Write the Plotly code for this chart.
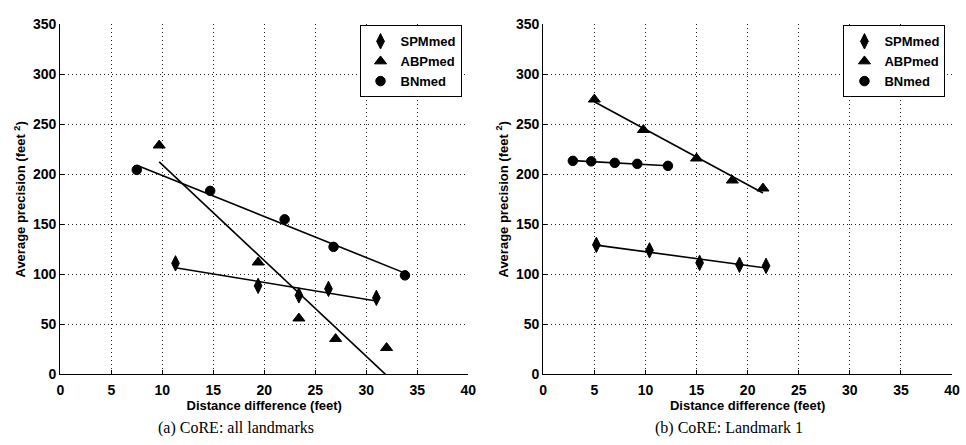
import numpy as np
import plotly.graph_objects as go

# ---- data: (a) CoRE: all landmarks ----
a_spm_x = [11.3, 19.4, 23.4, 26.3, 31.0]
a_spm_y = [111, 88.5, 79, 85.5, 76.5]
a_abp_x = [9.7, 19.4, 23.4, 27.0, 32.0]
a_abp_y = [229, 112, 56, 35.5, 26.5]
a_bn_x = [7.5, 14.7, 22.0, 26.8, 33.8]
a_bn_y = [204.5, 183.5, 155, 127.5, 99]

# ---- data: (b) CoRE: Landmark 1 ----
b_spm_x = [5.2, 10.4, 15.3, 19.2, 21.8]
b_spm_y = [129.5, 124, 111.5, 109.5, 108.5]
b_abp_x = [5.0, 9.8, 15.0, 18.5, 21.5]
b_abp_y = [275, 244.5, 216, 194, 186]
b_bn_x = [2.9, 4.7, 7.0, 9.2, 12.2]
b_bn_y = [213.5, 213, 211.5, 210.5, 208.5]

series_names = ["SPMmed", "ABPmed", "BNmed"]
symbols = ["diamond-tall", "triangle-up", "circle"]
sizes = [11, 10.5, 9.5]
x_ticks = [0, 5, 10, 15, 20, 25, 30, 35, 40]
y_ticks = [0, 50, 100, 150, 200, 250, 300, 350]
x_ticktext = ["<b>%d</b>" % v for v in x_ticks]
y_ticktext = ["<b>%d</b>" % v for v in y_ticks]
captions = ["(a) CoRE: all landmarks", "(b) CoRE: Landmark 1"]

fig = go.Figure()

panels = [
    ([a_spm_x, a_abp_x, a_bn_x], [a_spm_y, a_abp_y, a_bn_y], "x", "y", "legend"),
    ([b_spm_x, b_abp_x, b_bn_x], [b_spm_y, b_abp_y, b_bn_y], "x2", "y2", "legend2"),
]

for xs_list, ys_list, xa, ya, lg in panels:
    for xs, ys in zip(xs_list, ys_list):
        k, b = np.polyfit(xs, ys, 1)
        fx = [min(xs), max(xs)]
        fy = [k * v + b for v in fx]
        fig.add_trace(go.Scatter(
            x=fx, y=fy, mode="lines", line=dict(color="black", width=1.6),
            showlegend=False, xaxis=xa, yaxis=ya, cliponaxis=True,
        ))
    for name, sym, sz, xs, ys in zip(series_names, symbols, sizes, xs_list, ys_list):
        fig.add_trace(go.Scatter(
            x=xs, y=ys, mode="markers", name=name,
            marker=dict(symbol=sym, color="black", size=sz,
                        line=dict(color="black", width=1)),
            xaxis=xa, yaxis=ya, legend=lg, cliponaxis=True,
        ))

W, H = 966, 445
top, bottom = 17, 380
ydom = [(H - bottom) / H, (H - top) / H]
tickfont = dict(family="Liberation Sans", size=14, color="black", weight="bold")
titlefont = dict(family="Liberation Sans", size=13, color="black", weight="bold")

def xaxis(dom, anchor):
    return dict(domain=dom, anchor=anchor, range=[0, 40],
                tickmode="array", tickvals=x_ticks, ticktext=x_ticktext,
                showgrid=True, gridcolor="#222", griddash="1px,3px", gridwidth=1,
                showline=True, linecolor="black", linewidth=1.2, zeroline=False,
                ticks="inside", ticklen=4, tickcolor="black", ticklabelstandoff=3,
                tickfont=tickfont,
                title=dict(text="<b>Distance difference (feet)</b>", font=titlefont, standoff=2))

def yaxis(anchor):
    return dict(domain=ydom, anchor=anchor, range=[0, 350],
                tickmode="array", tickvals=y_ticks, ticktext=y_ticktext,
                showgrid=True, gridcolor="#222", griddash="1px,3px", gridwidth=1,
                showline=True, linecolor="black", linewidth=1.2, zeroline=False,
                ticks="inside", ticklen=4, tickcolor="black",
                tickfont=tickfont,
                title=dict(text="<b>Average precision (feet <sup>2</sup>)</b>", font=titlefont, standoff=4))

legend_common = dict(bgcolor="white", bordercolor="black", borderwidth=1,
                     font=dict(family="Liberation Sans", size=13, color="black", weight="bold"),
                     xanchor="left", yanchor="top", itemwidth=30, tracegroupgap=0)

fig.update_layout(
    width=W, height=H, margin=dict(l=0, r=0, t=0, b=0),
    paper_bgcolor="white", plot_bgcolor="white",
    xaxis=xaxis([57 / W, 470 / W], "y"),
    yaxis=yaxis("x"),
    xaxis2=xaxis([546 / W, 960 / W], "y2"),
    yaxis2=yaxis("x2"),
    legend=dict(x=360 / W, y=1 - 18 / H, **legend_common),
    legend2=dict(x=850 / W, y=1 - 18 / H, **legend_common),
    annotations=[
        dict(text=captions[0], x=235 / W, y=1 - 436 / H, xref="paper", yref="paper",
             xanchor="center", yanchor="middle",
             showarrow=False, font=dict(family="Liberation Serif", size=16, color="black")),
        dict(text=captions[1], x=734 / W, y=1 - 436 / H, xref="paper", yref="paper",
             xanchor="center", yanchor="middle",
             showarrow=False, font=dict(family="Liberation Serif", size=16, color="black")),
    ],
)

fig.write_html("out.html")
